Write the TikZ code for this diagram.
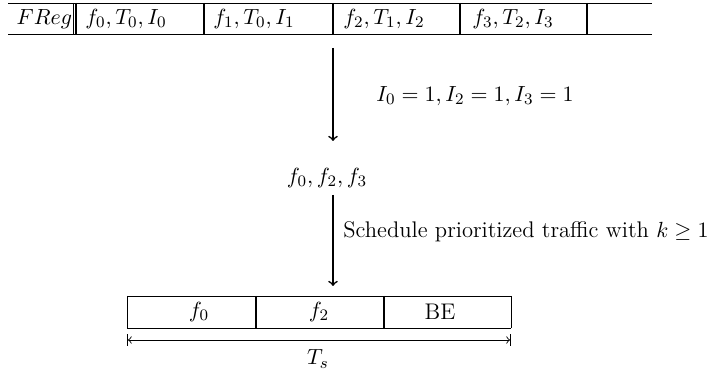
\documentclass[tikz,border=0pt]{standalone}
\usetikzlibrary{arrows}
\begin{document}
\begin{tikzpicture}[x=0.5pt,y=-0.5pt,
  every node/.style={font=\fontsize{11.3pt}{13.5pt}\selectfont},
  cell/.style={anchor=west,inner sep=0pt},
  lbl/.style={inner sep=0pt},
  flow/.style={->,thick},
  sep/.style={line width=0.9pt},
  edge/.style={line width=0.45pt}]
\useasboundingbox (0,0) rectangle (719,374);
% top register row
\draw[edge] (8,3) -- (652,3);
\draw[edge] (8,34.5) -- (652,34.5);
\draw[edge] (73.5,3) -- (73.5,34.5);
\foreach \x in {76,204,333,460,587} \draw[sep] (\x,3) -- (\x,34.5);
\node[lbl,anchor=east] (freg) at (72.5,19) {$FReg$};
\node[cell] (c0) at (85,19) {$f_0,T_0,I_0$};
\node[cell] (c1) at (213,19) {$f_1,T_0,I_1$};
\node[cell] (c2) at (343,19) {$f_2,T_1,I_2$};
\node[cell] (c3) at (472,19) {$f_3,T_2,I_3$};
% first arrow
\coordinate (a1s) at (333,48);
\coordinate (a1e) at (333,141);
\draw[flow] (a1s) -- (a1e);
\node[lbl,anchor=west] (cond) at (376,96) {$I_0=1,I_2=1,I_3=1$};
\node[lbl] (fset) at (327,178) {$f_0,f_2,f_3$};
% second arrow
\coordinate (a2s) at (333,195);
\coordinate (a2e) at (333,286);
\draw[flow] (a2s) -- (a2e);
\node[lbl,anchor=west] (sched) at (343,232) {Schedule prioritized traffic with $k\geq 1$};
% bottom schedule boxes
\draw[edge] (127,296) -- (511,296);
\draw[edge] (127,328) -- (511,328);
\draw[edge] (127,296) -- (127,328);
\draw[edge] (511,296) -- (511,328);
\draw[sep] (256,296) -- (256,328);
\draw[sep] (384,296) -- (384,328);
\node[lbl] (b0) at (199,312) {$f_0$};
\node[lbl] (b1) at (319,312) {$f_2$};
\node[lbl] (b2) at (440,312) {BE};
% period
\coordinate (ts1) at (127,340);
\coordinate (ts2) at (511,340);
\draw[edge,|<->|] (ts1) -- (ts2);
\node[lbl] (ts) at (318,359) {$T_s$};
\end{tikzpicture}
\end{document}
